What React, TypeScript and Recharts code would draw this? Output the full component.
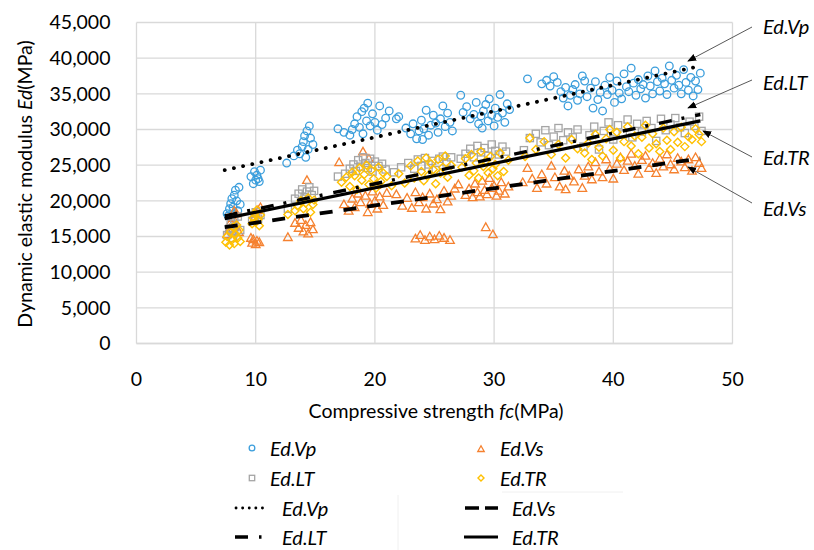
import React from 'react';
import { ScatterChart, Scatter, XAxis, YAxis, CartesianGrid } from 'recharts';

// [fc (MPa), Ed (MPa)]
const vpPoints = [
  [7.6, 18200], [7.8, 18900], [7.9, 19600], [8.0, 20300], [8.1, 19100], [8.2, 20800], [8.3, 21500], [8.4, 20000],
  [8.6, 21900], [8.7, 19500], [7.7, 17900], [8.5, 18600],
  [9.6, 23400], [9.8, 22400], [9.9, 24100], [10.0, 22900], [10.1, 23600], [10.3, 22700], [10.4, 24300], [10.2, 23100],
  [12.6, 25300],
  [13.2, 26300], [13.5, 27100], [13.7, 26600], [13.9, 27600], [14.0, 28300], [14.1, 29100], [14.3, 29800], [14.4, 27200],
  [14.5, 30500], [14.6, 28800], [14.8, 27900], [14.2, 26100],
  [16.9, 30100], [17.4, 29600], [17.9, 29200], [18.3, 30800], [18.5, 31800], [18.7, 30300], [18.9, 32500], [19.1, 33000],
  [19.3, 31200], [19.4, 33700], [19.6, 30500], [19.8, 32200], [20.0, 31000], [20.2, 29900], [20.4, 33300], [20.6, 30700],
  [20.9, 31600], [21.2, 32600], [19.0, 29400], [18.1, 30000],
  [21.8, 31500], [22.0, 31800], [22.6, 30200], [23.0, 29400], [23.2, 30800], [23.5, 28700], [23.7, 29800], [23.9, 31300],
  [24.1, 30100], [24.3, 32700], [24.5, 29200], [24.7, 30600], [24.9, 32000], [25.1, 30900], [25.3, 29600], [25.5, 31500],
  [25.7, 33300], [25.9, 30400], [26.1, 32300], [26.3, 31000], [24.0, 28600], [26.5, 29800],
  [27.2, 34800], [27.4, 32400], [27.7, 33200], [28.0, 31500], [28.3, 32100], [28.5, 33800], [28.7, 30800], [28.9, 31900],
  [29.1, 32600], [29.3, 33500], [29.5, 31200], [29.6, 34300], [29.8, 32000], [30.0, 30500], [30.1, 33000], [30.3, 31700],
  [30.5, 34900], [30.7, 32300], [30.9, 31000], [31.1, 33600], [29.0, 30200], [31.3, 32800],
  [32.8, 37100],
  [34.0, 36400], [34.4, 36900], [34.7, 36100], [35.0, 37400], [35.3, 36600], [35.6, 35300], [35.8, 34400], [36.0, 35900],
  [36.2, 33300], [36.4, 34800], [36.6, 35600], [36.8, 36300], [37.0, 34100], [37.2, 35000], [37.4, 37500], [37.6, 36800],
  [37.8, 34600], [38.1, 35800], [38.3, 33000], [38.5, 36700], [38.7, 34200], [38.9, 35200], [39.1, 32600], [39.3, 36200],
  [39.5, 34900], [39.7, 37300], [39.9, 35500], [40.1, 33800], [40.3, 36800], [40.5, 35100], [40.7, 34300], [40.9, 37800],
  [41.1, 36000], [41.3, 35300], [41.5, 38600], [41.7, 36500], [41.9, 34800], [42.1, 37000], [42.3, 35700], [42.5, 36300],
  [42.7, 34400], [42.9, 37500], [43.1, 36100], [43.3, 35000], [43.5, 38200], [43.7, 36700], [43.9, 35400], [44.1, 37200],
  [44.3, 36400], [44.5, 34900], [44.7, 38900], [44.9, 36900], [45.1, 35800], [45.3, 37600], [45.5, 36200], [45.7, 35000],
  [45.9, 38400], [46.1, 36600], [46.3, 35500], [46.5, 37300], [46.7, 34700], [46.9, 36800], [47.1, 35600], [47.3, 37900],
];

const vsPoints = [
  [7.6, 15300], [7.8, 16100], [7.9, 17000], [8.0, 15800], [8.1, 17600], [8.3, 16500], [8.4, 18200], [8.6, 15600], [8.2, 18600],
  [9.7, 14100], [9.8, 14600], [10.0, 13900], [10.1, 14400], [10.3, 14200], [9.9, 17600], [10.2, 18700], [10.4, 19100],
  [10.0, 18200], [9.6, 14800],
  [12.7, 14900],
  [13.3, 16900], [13.6, 16200], [13.8, 17300], [14.0, 15700], [14.2, 16600], [14.4, 15400], [14.6, 17000], [14.8, 16000],
  [14.3, 22900], [17.0, 25400],
  [17.4, 19500], [17.8, 18600], [18.1, 20300], [18.3, 19100], [18.6, 21000], [18.8, 19800], [19.0, 26900], [19.2, 20700],
  [19.4, 18400], [19.5, 25900], [19.6, 19600], [19.8, 21300], [20.0, 20000], [20.2, 18900], [20.4, 20600], [20.7, 19400],
  [21.0, 21100], [20.1, 22200],
  [21.8, 20900], [22.3, 19300], [22.7, 20400], [23.1, 19000], [23.4, 21200], [23.7, 19800], [24.0, 20500], [24.3, 18900],
  [24.6, 21000], [24.9, 19600], [25.2, 20200], [25.5, 18800], [25.8, 21400], [26.1, 19900], [26.4, 20700], [26.7, 21700],
  [27.0, 22300],
  [23.4, 14700], [23.8, 15200], [24.2, 14500], [24.6, 15000], [25.0, 14600], [25.4, 15100], [25.8, 14800], [26.3, 14500],
  [29.3, 16300], [29.9, 15300],
  [27.6, 20800], [27.9, 21700], [28.2, 20500], [28.4, 22400], [28.6, 21200], [28.8, 20600], [29.0, 22800], [29.2, 21500],
  [29.4, 20900], [29.6, 23200], [29.8, 21800], [30.0, 22100], [30.2, 20700], [30.4, 21400], [30.6, 22600], [30.9, 21000],
  [31.2, 22000],
  [32.4, 22600], [32.8, 24600], [33.2, 23100], [33.6, 21800], [34.0, 23700], [34.4, 22400], [34.8, 24900], [35.1, 23300],
  [35.5, 22000], [35.9, 24200], [36.3, 23500], [36.7, 22700], [37.1, 24400], [37.4, 21800], [36.0, 21600],
  [37.6, 23500], [37.9, 24800], [38.2, 23000], [38.5, 25400], [38.8, 24100], [39.1, 23300], [39.4, 25800], [39.7, 24500],
  [40.0, 23100], [40.3, 25200], [40.6, 26100], [40.9, 24300], [41.2, 25600], [41.5, 26600], [41.8, 24900], [42.1, 23800],
  [42.4, 25700], [42.7, 26300], [43.0, 24600], [43.3, 25300], [43.6, 23900], [43.9, 25900], [44.2, 24800], [44.5, 26500],
  [44.8, 25100], [45.1, 24400], [45.4, 26000], [45.7, 25500], [46.0, 24700], [46.3, 25800], [46.6, 24200], [46.9, 26100],
  [47.2, 25300], [47.4, 24600],
];

const ltPoints = [
  [7.6, 15200], [7.8, 16100], [7.9, 16800], [8.0, 15600], [8.2, 17400], [8.3, 16300], [8.5, 17800], [8.7, 15900], [8.1, 14800],
  [9.7, 17200], [9.9, 17800], [10.0, 18400], [10.2, 17500], [10.4, 18000],
  [12.7, 18900],
  [13.3, 20300], [13.6, 21000], [13.9, 21600], [14.1, 20500], [14.3, 21300], [14.5, 21900], [14.7, 20800], [14.9, 21400],
  [16.9, 23400],
  [17.5, 23800], [17.9, 24500], [18.2, 25100], [18.4, 24200], [18.6, 25700], [18.8, 24800], [19.0, 26100], [19.2, 25300],
  [19.4, 24600], [19.6, 25900], [19.8, 24100], [20.0, 25500], [20.3, 24900], [20.6, 25200], [20.9, 24400],
  [21.6, 24000], [22.2, 24700], [22.8, 25300], [23.3, 24500], [23.6, 25800], [23.9, 24900], [24.2, 26000], [24.5, 25100],
  [24.8, 25600], [25.1, 24300], [25.4, 25900], [25.7, 26200], [26.0, 25400], [26.4, 26100],
  [27.2, 25900], [27.6, 26600], [28.0, 27300], [28.3, 26100], [28.6, 27700], [28.9, 26800], [29.2, 27400], [29.5, 26300],
  [29.8, 27900], [30.1, 27000], [30.4, 26500], [30.7, 27600], [31.0, 26900],
  [32.5, 27100], [33.0, 28800], [33.5, 29400], [33.9, 28200], [34.3, 29900], [34.6, 27800], [35.0, 29000], [35.4, 30200],
  [35.8, 28500], [36.2, 29600], [36.6, 28900], [37.0, 30000],
  [37.5, 27600], [38.0, 29200], [38.4, 30400], [38.8, 27200], [39.2, 29800], [39.6, 31000], [40.0, 28600], [40.4, 30600],
  [40.8, 29300], [41.2, 31400], [41.6, 28900], [42.0, 30800], [42.4, 29700], [42.8, 31200], [43.2, 30200], [43.6, 28400],
  [44.0, 31500], [44.4, 29900], [44.8, 30700], [45.2, 31600], [45.6, 30300], [46.0, 29500], [46.4, 31100], [46.8, 30500],
  [47.2, 31800], [47.4, 29800],
];

const trPoints = [
  [7.5, 14200], [7.6, 15000], [7.8, 13800], [7.9, 15700], [8.0, 14500], [8.1, 16300], [8.2, 14000], [8.3, 15300],
  [8.4, 16600], [8.5, 14800], [8.6, 15900], [8.7, 14300],
  [9.7, 16800], [9.8, 17600], [9.9, 18200], [10.0, 17000], [10.1, 18700], [10.2, 17400], [10.3, 16500], [10.4, 18000],
  [12.7, 18100],
  [13.3, 18600], [13.5, 19300], [13.8, 20000], [14.0, 18900], [14.2, 19700], [14.4, 20400], [14.6, 18400], [14.8, 19500],
  [14.9, 20100],
  [17.2, 22600], [17.6, 23300], [17.9, 22000], [18.1, 24000], [18.3, 23500], [18.5, 21600], [18.7, 24600], [18.9, 22900],
  [19.1, 23700], [19.3, 25000], [19.5, 22300], [19.7, 24300], [19.9, 23100], [20.1, 21800], [20.3, 24700], [20.5, 22700],
  [20.7, 23900], [21.0, 23400], [21.4, 22100],
  [22.0, 23800], [22.5, 22500], [23.0, 24900], [23.3, 23200], [23.6, 25600], [23.9, 24100], [24.1, 22800], [24.3, 26000],
  [24.5, 23600], [24.7, 25200], [24.9, 24400], [25.1, 22400], [25.3, 25800], [25.5, 23900], [25.7, 24700], [25.9, 26300],
  [26.1, 23300], [26.4, 25000],
  [27.3, 24700], [27.6, 25900], [27.9, 23600], [28.1, 26500], [28.3, 24200], [28.5, 25300], [28.7, 23200], [28.9, 26900],
  [29.1, 24800], [29.3, 25600], [29.5, 23900], [29.7, 26200], [29.9, 24500], [30.1, 25100], [30.3, 23500], [30.5, 26700],
  [30.8, 24100], [31.2, 25700],
  [32.6, 26200], [33.0, 28800], [33.5, 27200], [34.2, 28300], [34.8, 26500], [35.4, 27900], [36.0, 26000], [36.5, 28600],
  [37.0, 27300],
  [37.6, 26700], [37.9, 28100], [38.2, 25800], [38.5, 29300], [38.8, 27500], [39.1, 26300], [39.4, 28700], [39.7, 30000],
  [40.0, 27100], [40.3, 29600], [40.6, 26000], [40.9, 28300], [41.2, 30400], [41.5, 27700], [41.8, 29100], [42.1, 26600],
  [42.4, 28900], [42.7, 30600], [43.0, 27400], [43.3, 29400], [43.6, 28000], [43.9, 26900], [44.2, 30200], [44.5, 28500],
  [44.8, 27200], [45.1, 29700], [45.4, 28200], [45.7, 30300], [46.0, 27600], [46.3, 29000], [46.6, 28600], [46.9, 30100],
  [47.2, 29300], [47.4, 28300],
];

// linear trend lines, end points
const vpTrend = [[7.4, 24300], [47.3, 38900]];
const vsTrend = [[7.4, 16300], [47.3, 25950]];
const ltTrend = [[7.4, 17900], [47.3, 32100]];
const trTrend = [[7.4, 17500], [47.3, 31200]];

const xTicks = [0, 10, 20, 30, 40, 50];
const yTicks = [0, 5000, 10000, 15000, 20000, 25000, 30000, 35000, 40000, 45000];

const BLUE = '#3b9edc';
const ORANGE = '#f5812f';
const GRAY = '#a5a5a5';
const GOLD = '#ffc000';
const FONT = "Lato, 'Noto Sans', sans-serif";

const toXY = (pts: number[][]) => pts.map(([x, y]) => ({ x, y }));

const Circle = ({ cx, cy, s = 1 }: any) => <circle cx={cx} cy={cy} r={3.8 * s} fill="none" stroke={BLUE} strokeWidth={1.3} />;
const Square = ({ cx, cy, s = 1 }: any) => (
  <rect x={cx - 3.6 * s} y={cy - 3.6 * s} width={7.2 * s} height={7.2 * s} fill="none" stroke={GRAY} strokeWidth={1.3} />
);
const Triangle = ({ cx, cy, s = 1 }: any) => (
  <polygon points={`${cx},${cy - 4.3 * s} ${cx + 4.3 * s},${cy + 3.3 * s} ${cx - 4.3 * s},${cy + 3.3 * s}`}
    fill="none" stroke={ORANGE} strokeWidth={1.3} />
);
const Diamond = ({ cx, cy, s = 1 }: any) => (
  <polygon points={`${cx},${cy - 4 * s} ${cx + 4 * s},${cy} ${cx},${cy + 4 * s} ${cx - 4 * s},${cy}`}
    fill="none" stroke={GOLD} strokeWidth={1.4} />
);
const NoDot = () => <g />;

const dotted = { stroke: '#000', strokeWidth: 3.8, strokeDasharray: '0.1 9.3', strokeLinecap: 'round' };
const dashed = { stroke: '#000', strokeWidth: 3.8, strokeDasharray: '13 11' };
const dashDot = { stroke: '#000', strokeWidth: 3.4, strokeDasharray: '13 10 3 11' };
const solid = { stroke: '#000', strokeWidth: 3.2 };

const YTitle = () => (
  <text x={24} y={184} transform="rotate(-90 24 184)" textAnchor="middle" dominantBaseline="central"
    fontFamily={FONT} fontSize={19.5} fill="#000">
    Dynamic elastic modulus <tspan fontStyle="italic">Ed</tspan>(MPa)
  </text>
);

const XTitle = () => (
  <text x={436} y={410} textAnchor="middle" dominantBaseline="central" fontFamily={FONT} fontSize={19.5} fill="#000">
    Compressive strength <tspan fontStyle="italic">fc</tspan>(MPa)
  </text>
);

const Overlay = () => {
  const label = { fontFamily: FONT, fontSize: 20, fontStyle: 'italic' as const, fill: '#000', dominantBaseline: 'central' as const };
  const arrow = { stroke: '#595959', strokeWidth: 1, markerEnd: 'url(#ah)' };
  return (
    <svg width={814} height={550} style={{ position: 'absolute', left: 0, top: 0, pointerEvents: 'none' }}>
      <defs>
        <marker id="ah" viewBox="0 0 10 10" refX="9" refY="5" markerWidth="9" markerHeight="9" orient="auto" markerUnits="userSpaceOnUse">
          <path d="M0,1 L10,5 L0,9 z" fill="#000" />
        </marker>
      </defs>
      {/* annotations */}
      <line x1={752} y1={27} x2={688} y2={61} {...arrow} />
      <line x1={752} y1={80} x2={688} y2={108} {...arrow} />
      <line x1={752} y1={157} x2={703} y2={131} {...arrow} />
      <line x1={752} y1={203} x2={688} y2={167} {...arrow} />
      <text x={763} y={26} {...label}>Ed.Vp</text>
      <text x={763} y={82} {...label}>Ed.LT</text>
      <text x={763} y={157} {...label}>Ed.TR</text>
      <text x={763} y={208} {...label}>Ed.Vs</text>

      {/* legend: markers */}
      <Circle cx={252} cy={448} s={0.75} />
      <text x={270} y={448} {...label}>Ed.Vp</text>
      <Triangle cx={481} cy={449} s={0.75} />
      <text x={500} y={448} {...label}>Ed.Vs</text>
      <Square cx={252} cy={478} s={0.75} />
      <text x={270} y={478} {...label}>Ed.LT</text>
      <Diamond cx={481} cy={478} s={0.75} />
      <text x={500} y={478} {...label}>Ed.TR</text>

      {/* legend: trend lines */}
      <line x1={502} y1={492} x2={623} y2={492} stroke="#f0f0f0" strokeWidth={1} />
      <line x1={398} y1={495} x2={398} y2={550} stroke="#f0f0f0" strokeWidth={1} />
      <line x1={236} y1={508} x2={266} y2={508} stroke="#000" strokeWidth={2.8} strokeDasharray="0.1 6.5" strokeLinecap="round" />
      <text x={282} y={508} {...label}>Ed.Vp</text>
      <line x1={465} y1={508} x2={498} y2={508} stroke="#000" strokeWidth={3.4} strokeDasharray="14 6" />
      <text x={512} y={508} {...label}>Ed.Vs</text>
      <line x1={235} y1={537} x2={262} y2={537} stroke="#000" strokeWidth={3.4} strokeDasharray="13 11 2.5 20" />
      <text x={282} y={537} {...label}>Ed.LT</text>
      <line x1={464} y1={537} x2={498} y2={537} stroke="#000" strokeWidth={3.2} />
      <text x={512} y={537} {...label}>Ed.TR</text>
    </svg>
  );
};

export default function App() {
  const tick = { fontFamily: FONT, fontSize: 19.5, fill: '#000' };
  return (
    <div style={{ position: 'absolute', left: 0, top: 0, width: 814, height: 550, background: '#fff' }}>
      <ScatterChart width={814} height={550} margin={{ top: 22.5, right: 81.5, bottom: 146.5, left: 0 }}>
        <CartesianGrid stroke="#d9d9d9" strokeWidth={1.3} />
        <XAxis type="number" dataKey="x" domain={[0, 50]} ticks={xTicks} height={60} tickSize={0} tickMargin={29}
          axisLine={{ stroke: '#d9d9d9', strokeWidth: 1.3 }} tick={tick} label={{ content: XTitle }} />
        <YAxis type="number" dataKey="y" domain={[0, 45000]} ticks={yTicks} width={136.5} tickSize={0} tickMargin={26}
          axisLine={false} tick={tick} tickFormatter={(v: number) => v.toLocaleString('en-US')} label={{ content: YTitle }} />
        <Scatter data={toXY(vpPoints)} shape={Circle} isAnimationActive={false} />
        <Scatter data={toXY(vsPoints)} shape={Triangle} isAnimationActive={false} />
        <Scatter data={toXY(ltPoints)} shape={Square} isAnimationActive={false} />
        <Scatter data={toXY(trPoints)} shape={Diamond} isAnimationActive={false} />
        <Scatter data={toXY(vpTrend)} line={dotted} shape={NoDot} isAnimationActive={false} />
        <Scatter data={toXY(vsTrend)} line={dashed} shape={NoDot} isAnimationActive={false} />
        <Scatter data={toXY(ltTrend)} line={dashDot} shape={NoDot} isAnimationActive={false} />
        <Scatter data={toXY(trTrend)} line={solid} shape={NoDot} isAnimationActive={false} />
      </ScatterChart>
      <Overlay />
    </div>
  );
}
